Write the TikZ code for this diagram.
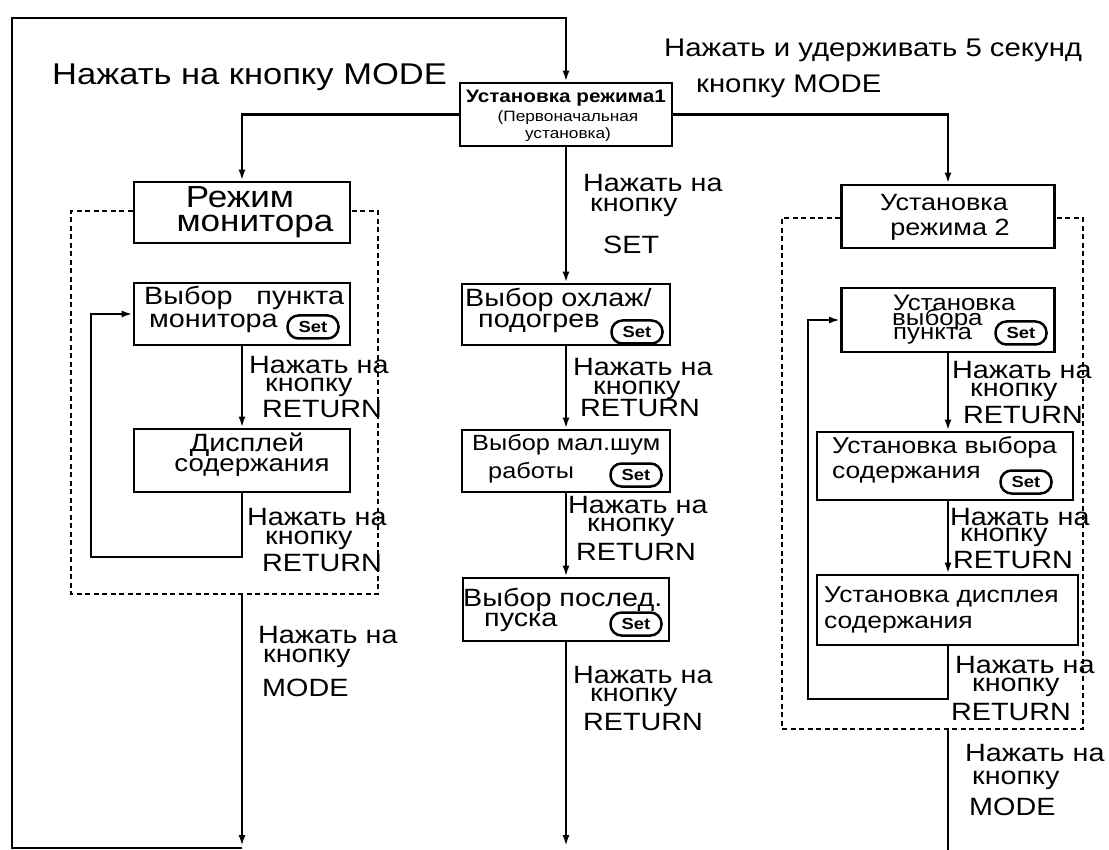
\documentclass[tikz,border=0pt]{standalone}
\usepackage{fontspec}
\setmainfont{Liberation Sans}[FakeStretch=1.15]
\usetikzlibrary{arrows.meta}
\tikzset{
  box/.style={draw, line width=2.8pt, inner sep=0pt},
  conn/.style={line width=2.5pt},
  arr/.style={conn, -{Latex[length=11pt,width=7pt]}},
  dbox/.style={line width=2.5pt, dash pattern=on 5pt off 3.5pt},
  setbtn/.style={draw, line width=2.5pt, rounded corners=11pt, minimum width=51pt, minimum height=23pt, inner sep=0pt, font=\fontsize{16}{16}\bfseries\selectfont},
  lbl/.style={anchor=west, inner sep=0pt, font=\fontsize{25}{25}\selectfont},
  btxt/.style={anchor=west, inner sep=0pt, font=\fontsize{25}{25}\selectfont},
  ctxt/.style={anchor=center, inner sep=0pt, font=\fontsize{25}{25}\selectfont}
}
\begin{document}
\begin{tikzpicture}[x=1pt,y=-1pt]
\useasboundingbox (0,0) rectangle (1109,850);
% boxes
\node[box, minimum width=212pt, minimum height=63pt] (M1) at (566,114.5) {};
\node[box, minimum width=216pt, minimum height=61pt] (L0) at (242,212.5) {};
\node[box, minimum width=216pt, minimum height=62pt] (L1) at (242,314) {};
\node[box, minimum width=216pt, minimum height=63pt] (L2) at (242,460.5) {};
\node[box, minimum width=208pt, minimum height=61pt] (C1) at (566,314.5) {};
\node[box, minimum width=208pt, minimum height=62pt] (C2) at (566,461) {};
\node[box, minimum width=206pt, minimum height=63pt] (C3) at (566,609.5) {};
\node[box, minimum width=213pt, minimum height=63pt] (R0) at (948,216.5) {};
\node[box, minimum width=213pt, minimum height=64pt] (R1) at (948,320) {};
\node[box, minimum width=256pt, minimum height=68pt] (R2) at (945,466) {};
\node[box, minimum width=261pt, minimum height=70pt] (R3) at (947.5,610) {};
% box texts
\node[anchor=center, inner sep=0pt, font=\fontsize{18}{18}\bfseries\selectfont] (m1a) at (566,98) {Установка режима1};
\node[anchor=center, inner sep=0pt, font=\fontsize{15}{15}\selectfont] (m1b) at (568,118) {(Первоначальная};
\node[anchor=center, inner sep=0pt, font=\fontsize{15}{15}\selectfont] (m1c) at (568,135) {установка)};
\node[ctxt, font=\fontsize{30.5}{30.5}\selectfont] (l0a) at (240,197) {Режим};
\node[ctxt, font=\fontsize{30.5}{30.5}\selectfont] (l0b) at (255,226) {монитора};
\node[btxt] (l1a) at (144,298) {Выбор\ \ \ пункта};
\node[btxt] (l1b) at (149,323) {монитора};
\node[setbtn] (s1) at (313,327) {Set};
\node[ctxt] (l2a) at (247,445) {Дисплей};
\node[ctxt, font=\fontsize{24}{24}\selectfont] (l2b) at (252,468) {содержания};
\node[btxt] (c1a) at (465,300) {Выбор охлаж/};
\node[btxt] (c1b) at (478,323) {подогрев};
\node[setbtn] (s2) at (637,332) {Set};
\node[btxt, font=\fontsize{22}{22}\selectfont] (c2a) at (472,445) {Выбор мал.шум};
\node[btxt, font=\fontsize{22}{22}\selectfont] (c2b) at (488,473) {работы};
\node[setbtn] (s3) at (636,475) {Set};
\node[btxt] (c3a) at (463,600) {Выбор послед.};
\node[btxt] (c3b) at (484,622) {пуска};
\node[setbtn] (s4) at (636,624) {Set};
\node[ctxt, font=\fontsize{23.5}{23.5}\selectfont] (r0a) at (944,203) {Установка};
\node[ctxt, font=\fontsize{23.5}{23.5}\selectfont] (r0b) at (950,230) {режима 2};
\node[btxt, font=\fontsize{22.5}{22.5}\selectfont] (r1a) at (893,303) {Установка};
\node[btxt, font=\fontsize{22.5}{22.5}\selectfont] (r1b) at (892,320) {выбора};
\node[btxt, font=\fontsize{22.5}{22.5}\selectfont] (r1c) at (893,336) {пункта};
\node[setbtn] (s5) at (1021,333) {Set};
\node[btxt, font=\fontsize{23}{23}\selectfont] (r2a) at (832,447) {Установка выбора};
\node[btxt, font=\fontsize{23}{23}\selectfont] (r2b) at (832,475) {содержания};
\node[setbtn] (s6) at (1026,482) {Set};
\node[btxt, font=\fontsize{23}{23}\selectfont] (r3a) at (824,597) {Установка дисплея};
\node[btxt, font=\fontsize{23}{23}\selectfont] (r3b) at (824,625) {содержания};
% frame and connectors
\coordinate (fb) at (242,848);
\coordinate (fl) at (12,848);
\draw[arr] (fb) -- (fl) |- (M1.north |- 0,18) -- (M1.north);
\draw[arr] (M1.west) -| (L0.north);
\draw[arr] (M1.east) -| (R0.north);
\draw[arr] (M1.south) -- (C1.north);
\draw[arr] (C1.south) -- (C2.north);
\draw[arr] (C2.south) -- (C3.north);
\coordinate (cend) at (566,846);
\draw[arr] (C3.south) -- (cend);
\draw[arr] (L1.south) -- (L2.north);
\draw[arr] (L2.south) |- (91,557) |- (L1.west);
\coordinate (lx) at (242,594);
\coordinate (lend) at (242,846);
\draw[arr] (lx) -- (lend);
\draw[arr] (R1.south) -- (R1.south |- R2.north);
\draw[arr] (R2.south -| R1.south) -- (R1.south |- R3.north);
\draw[arr] (R3.south -| R1.south) |- (808,699) |- (R1.west);
\coordinate (rx) at (948,729);
\coordinate (rend) at (948,850);
\draw[conn] (rx) -- (rend);
% dashed groups
\draw[dbox] (L0.west |- 0,211) -- (71,211) -- (71,594) -- (378,594) -- (378,211) -- (L0.east |- 0,211);
\draw[dbox] (R0.west |- 0,218) -- (782,218) -- (782,729) -- (1083,729) -- (1083,218) -- (R0.east |- 0,218);
% labels
\node[lbl, font=\fontsize{30}{30}\selectfont] (big) at (52,77) {Нажать на кнопку MODE};
\node[lbl, font=\fontsize{25.5}{25.5}\selectfont] (tr1) at (664,50) {Нажать и удерживать 5 секунд};
\node[lbl, font=\fontsize{25.5}{25.5}\selectfont] (tr2) at (696,86) {кнопку MODE};
\node[lbl] (la1) at (249,365) {Нажать на};
\node[lbl] (la2) at (265,387) {кнопку};
\node[lbl] (la3) at (262,409) {RETURN};
\node[lbl] (lb1) at (247,517) {Нажать на};
\node[lbl] (lb2) at (265,540) {кнопку};
\node[lbl] (lb3) at (262,563) {RETURN};
\node[lbl] (lc1) at (258,635) {Нажать на};
\node[lbl] (lc2) at (263,658) {кнопку};
\node[lbl] (lc3) at (262,688) {MODE};
\node[lbl] (ca1) at (583,183) {Нажать на};
\node[lbl] (ca2) at (590,207) {кнопку};
\node[lbl] (ca3) at (603,245) {SET};
\node[lbl] (cb1) at (573,367) {Нажать на};
\node[lbl] (cb2) at (593,390) {кнопку};
\node[lbl] (cb3) at (580,408) {RETURN};
\node[lbl] (cc1) at (568,505) {Нажать на};
\node[lbl] (cc2) at (587,527) {кнопку};
\node[lbl] (cc3) at (576,552) {RETURN};
\node[lbl] (cd1) at (573,675) {Нажать на};
\node[lbl] (cd2) at (590,697) {кнопку};
\node[lbl] (cd3) at (583,722) {RETURN};
\node[lbl] (ra1) at (952,370) {Нажать на};
\node[lbl] (ra2) at (970,392) {кнопку};
\node[lbl] (ra3) at (963,415) {RETURN};
\node[lbl] (rb1) at (950,517) {Нажать на};
\node[lbl] (rb2) at (960,537) {кнопку};
\node[lbl] (rb3) at (953,560) {RETURN};
\node[lbl] (rc1) at (955,665) {Нажать на};
\node[lbl] (rc2) at (972,687) {кнопку};
\node[lbl] (rc3) at (951,712) {RETURN};
\node[lbl] (rd1) at (965,753) {Нажать на};
\node[lbl] (rd2) at (972,780) {кнопку};
\node[lbl] (rd3) at (969,807) {MODE};
\end{tikzpicture}
\end{document}
